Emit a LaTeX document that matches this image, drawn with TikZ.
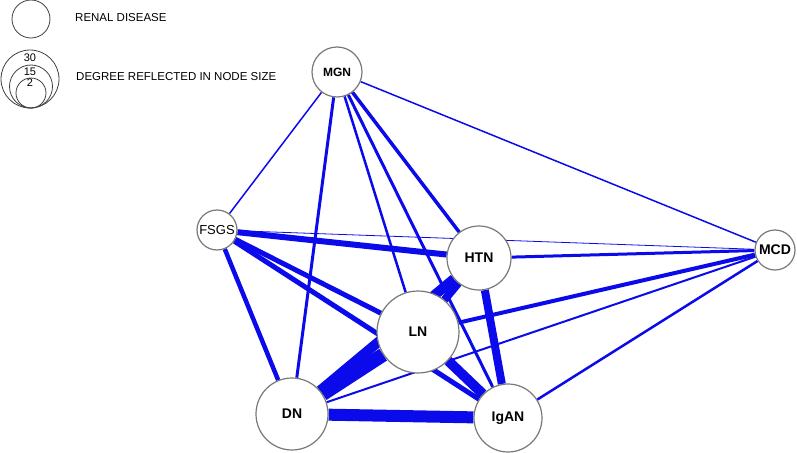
\documentclass[tikz,border=0pt]{standalone}
\usepackage{fontspec}
\setmainfont{Liberation Sans}
\usetikzlibrary{backgrounds}
\definecolor{edgeblue}{RGB}{10,10,235}
\definecolor{ringgray}{RGB}{120,120,120}
\tikzset{
  dnode/.style={circle, draw=ringgray, line width=1.2pt, fill=white, inner sep=0pt,
    font=\fontsize{14}{16}\selectfont\bfseries},
  lring/.style={circle, draw=black!75, line width=0.8pt, inner sep=0pt},
  ltext/.style={anchor=west, inner sep=0pt, font=\fontsize{11.5}{13}\selectfont},
  lnum/.style={inner sep=0pt, font=\fontsize{11}{12}\selectfont},
  edge/.style={draw=edgeblue, line width=#1}
}
\begin{document}
\begin{tikzpicture}[x=1pt,y=-1pt]
\useasboundingbox (0,0) rectangle (797,452);
% legend
\node[lring, minimum size=38pt] (lg1) at (31,19) {};
\node[ltext] (lt1) at (75,18) {RENAL DISEASE};
\node[lring, minimum size=58pt] (lg30) at (30,79) {};
\node[lring, minimum size=43pt] (lg15) at (31,86.5) {};
\node[lring, minimum size=30pt] (lg2) at (31,93) {};
\node[lnum] (n30) at (30,58) {30};
\node[lnum] (n15) at (30,72) {15};
\node[lnum] (n2) at (30,83) {2};
\node[ltext] (lt2) at (76,77) {DEGREE REFLECTED IN NODE SIZE};
% nodes
\node[dnode, minimum size=50pt, font=\fontsize{12}{14}\selectfont\bfseries] (MGN) at (337,72) {MGN};
\node[dnode, minimum size=40pt, font=\fontsize{13}{15}\selectfont] (FSGS) at (217,230) {FSGS};
\node[dnode, minimum size=64pt] (HTN) at (479,258) {HTN};
\node[dnode, minimum size=82pt] (LN) at (418,332) {LN};
\node[dnode, minimum size=72pt] (DN) at (292,414) {DN};
\node[dnode, minimum size=68pt] (IgAN) at (508,418) {IgAN};
\node[dnode, minimum size=40pt] (MCD) at (775,250) {MCD};
% edges
\begin{scope}[on background layer]
\draw[edge=1.5pt] (MGN) -- (FSGS);
\draw[edge=1.5pt] (MGN) -- (MCD);
\draw[edge=3pt] (MGN) -- (DN);
\draw[edge=2.5pt] (MGN) -- (LN);
\draw[edge=3.5pt] (MGN) -- (HTN);
\draw[edge=3pt] (MGN) -- (IgAN);
\draw[edge=0.8pt] (FSGS) -- (MCD);
\draw[edge=6pt] (FSGS) -- (HTN);
\draw[edge=5pt] (FSGS) -- (LN);
\draw[edge=5pt] (FSGS) -- (IgAN);
\draw[edge=4.5pt] (FSGS) -- (DN);
\draw[edge=3pt] (HTN) -- (MCD);
\draw[edge=8pt] (HTN) -- (LN);
\draw[edge=8pt] (HTN) -- (IgAN);
\draw[edge=10pt] (DN) -- (HTN);
\draw[edge=14pt] (DN) -- (LN);
\draw[edge=12pt] (DN) -- (IgAN);
\draw[edge=2pt] (DN) -- (MCD);
\draw[edge=4pt] (LN) -- (MCD);
\draw[edge=10pt] (LN) -- (IgAN);
\draw[edge=2.5pt] (IgAN) -- (MCD);
\end{scope}
\end{tikzpicture}
\end{document}
